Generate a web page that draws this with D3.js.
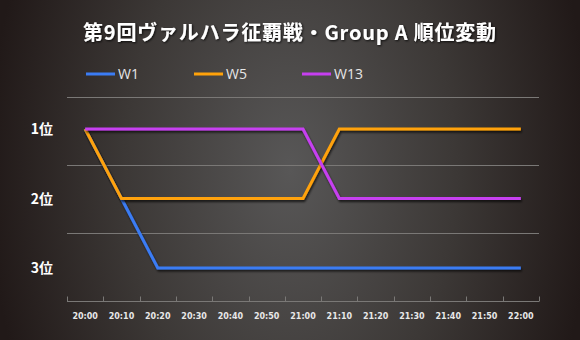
<!DOCTYPE html>
<html>
<head>
<meta charset="utf-8">
<script src="https://cdn.jsdelivr.net/npm/d3@7"></script>
<style>
  html, body { margin: 0; padding: 0; }
  body {
    width: 580px; height: 340px; overflow: hidden;
    background: radial-gradient(ellipse 52% 140% at 50% 50%, #585757 0%, #3c3836 55%, #211918 100%);
  }
  svg { display: block; }
</style>
</head>
<body>
<svg id="chart" width="580" height="340"></svg>
<script>
// Time slots (x axis) and rank rows (y axis)
const times = ["20:00","20:10","20:20","20:30","20:40","20:50","21:00","21:10","21:20","21:30","21:40","21:50","22:00"];
const rankLabels = ["1位", "2位", "3位"];
const ranks = [1, 2, 3];

// Ranking of each team per time slot
const w1  = [1, 2, 3, 3, 3, 3, 3, 3, 3, 3, 3, 3, 3];
const w5  = [1, 2, 2, 2, 2, 2, 2, 1, 1, 1, 1, 1, 1];
const w13 = [1, 1, 1, 1, 1, 1, 1, 2, 2, 2, 2, 2, 2];

const seriesNames = ["W1", "W5", "W13"];
const seriesColors = ["#3b7cf4", "#ffa20a", "#c63ff0"];
const seriesValues = [w1, w5, w13];

const svg = d3.select("#chart");
const W = 580, H = 340;
const m = { left: 67, right: 41, top: 97, bottom: 39 };
const plotW = W - m.left - m.right;
const plotH = H - m.top - m.bottom;

const defs = svg.append("defs");
const shadow = defs.append("filter").attr("id", "lineShadow")
  .attr("x", "-5%").attr("y", "-20%").attr("width", "110%").attr("height", "140%");
shadow.append("feDropShadow").attr("dx", 1).attr("dy", 2).attr("stdDeviation", 1)
  .attr("flood-color", "#000").attr("flood-opacity", 0.7);
const tshadow = defs.append("filter").attr("id", "textShadow")
  .attr("x", "-5%").attr("y", "-30%").attr("width", "110%").attr("height", "160%");
tshadow.append("feDropShadow").attr("dx", 1).attr("dy", 1).attr("stdDeviation", 1)
  .attr("flood-color", "#000").attr("flood-opacity", 0.8);

// Scales
const x = d3.scaleBand().domain(times).range([m.left, m.left + plotW]);
const yBand = d3.scaleBand().domain(ranks).range([m.top, m.top + plotH]);
const y = d3.scaleLinear().domain([1, 3]).range([129, 268]);

// Title
svg.append("text")
  .attr("x", 290).attr("y", 40)
  .attr("text-anchor", "middle")
  .attr("fill", "#ffffff")
  .attr("font-family", "'Noto Sans CJK JP', sans-serif")
  .attr("font-weight", "bold")
  .attr("font-size", 20)
  .attr("letter-spacing", 0.8)
  .attr("filter", "url(#textShadow)")
  .text("第9回ヴァルハラ征覇戦・Group A 順位変動");

// Legend
const legendX = [86, 194, 302];
const legend = svg.append("g");
seriesNames.forEach((name, i) => {
  const g = legend.append("g").attr("transform", `translate(${legendX[i]},74)`);
  g.append("line").attr("x1", 0).attr("x2", 29).attr("y1", 0).attr("y2", 0)
    .attr("stroke", seriesColors[i]).attr("stroke-width", 3);
  g.append("text").attr("x", 32).attr("y", 5)
    .attr("fill", "#e6e6e6")
    .attr("font-family", "'Open Sans', 'DejaVu Sans', sans-serif")
    .attr("font-size", 14)
    .text(name);
});

// Horizontal gridlines at rank band boundaries
const gridYs = ranks.map(r => yBand(r));
svg.append("g").selectAll("line").data(gridYs).join("line")
  .attr("x1", m.left).attr("x2", m.left + plotW)
  .attr("y1", d => Math.round(d) + 0.5).attr("y2", d => Math.round(d) + 0.5)
  .attr("stroke", "#7a7876").attr("stroke-width", 1);

// Bottom axis
const xAxis = d3.axisBottom(x).tickSize(0).tickPadding(12);
const axisG = svg.append("g").attr("transform", `translate(0,${m.top + plotH})`).call(xAxis);
axisG.select(".domain").remove();
axisG.selectAll("text")
  .attr("fill", "#e8e8e8")
  .attr("font-family", "'DejaVu Sans', sans-serif")
  .attr("font-weight", "bold")
  .attr("font-size", 8);
const axisY = Math.round(m.top + plotH) + 0.5;
svg.append("line")
  .attr("x1", m.left).attr("x2", m.left + plotW)
  .attr("y1", axisY).attr("y2", axisY)
  .attr("stroke", "#7a7876").attr("stroke-width", 1);
const boundaries = times.map(t => x(t)).concat([m.left + plotW]);
svg.append("g").selectAll("line").data(boundaries).join("line")
  .attr("x1", d => Math.round(d) + 0.5).attr("x2", d => Math.round(d) + 0.5)
  .attr("y1", axisY - 5).attr("y2", axisY)
  .attr("stroke", "#7a7876").attr("stroke-width", 1);

// Y labels
svg.append("g").selectAll("text").data(ranks).join("text")
  .attr("x", 53).attr("y", d => y(d) + 5)
  .attr("text-anchor", "end")
  .attr("fill", "#ffffff")
  .attr("font-family", "'Noto Sans CJK JP', sans-serif")
  .attr("font-weight", "bold")
  .attr("font-size", 14)
  .text((d, i) => rankLabels[i]);

// Series lines
const line = d3.line()
  .x((d, i) => x(times[i]) + x.bandwidth() / 2)
  .y(d => y(d));

svg.append("g").selectAll("path").data(seriesValues).join("path")
  .attr("d", d => line(d))
  .attr("fill", "none")
  .attr("stroke", (d, i) => seriesColors[i])
  .attr("stroke-width", 3)
  .attr("stroke-linejoin", "miter")
  .attr("filter", "url(#lineShadow)");
</script>
</body>
</html>
